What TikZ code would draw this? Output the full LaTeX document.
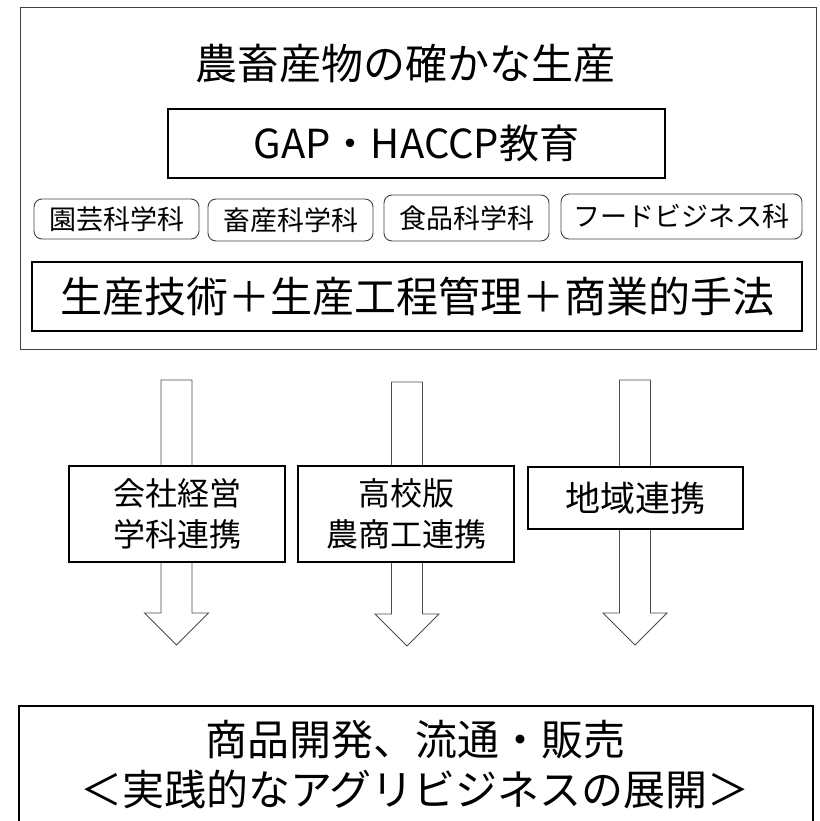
\documentclass[tikz,border=0pt]{standalone}
\usepackage{fontspec}
\setmainfont{Noto Sans CJK JP}
\begin{document}
\begin{tikzpicture}[x=1pt,y=-1pt,
  thinbox/.style={draw=black!75,line width=0.9pt},
  thickbox/.style={draw=black,line width=2.2pt,fill=white,inner sep=0pt,align=center},
  deptbox/.style={draw=black!75,line width=0.9pt,rounded corners=8pt,inner sep=0pt,font=\fontsize{27}{32}\selectfont},
  midbox/.style={draw=black,line width=2pt,fill=white,inner sep=0pt,align=center,minimum width=216pt},
  arrowline/.style={draw=black!70,line width=0.9pt,fill=white,line join=miter},
  bigtext/.style={font=\fontsize{42}{50}\selectfont},
  pics/downarrow/.style={code={
    \draw[arrowline] (-15.5,0) -- (15.5,0) -- (15.5,#1) -- (32,#1) -- (0,#1+32) -- (-32,#1) -- (-15.5,#1) -- cycle;
  }}
]
\useasboundingbox (0,0) rectangle (819,821);
% outer frame
\draw[thinbox] (20.5,7.5) rectangle (816.5,349);
\node[bigtext,inner sep=0pt] (title) at (405,64) {農畜産物の確かな生産};
\node[thickbox,minimum width=497pt,minimum height=69pt,font=\fontsize{40}{48}\selectfont] (gap) at (416.5,143.5) {GAP・HACCP教育};
\node[deptbox,minimum width=165pt,minimum height=40pt] (d1) at (116.5,219) {園芸科学科};
\node[deptbox,minimum width=165pt,minimum height=42pt] (d2) at (290.5,220) {畜産科学科};
\node[deptbox,minimum width=165pt,minimum height=46pt] (d3) at (466.5,218) {食品科学科};
\node[deptbox,minimum width=241pt,minimum height=45pt] (d4) at (681.5,216.5) {フードビジネス科};
\node[thickbox,minimum width=770pt,minimum height=69pt,bigtext] (tech) at (417,296.5) {生産技術＋生産工程管理＋商業的手法};
% block arrows
\coordinate (a1) at (176.5,380);
\coordinate (a2) at (407,382);
\coordinate (a3) at (635,380);
\pic at (a1) {downarrow=233};
\pic at (a2) {downarrow=232};
\pic at (a3) {downarrow=233};
% middle boxes
\node[midbox,minimum height=96pt,font=\fontsize{32}{40.5}\selectfont] (m1) at (177,514) {会社経営\\学科連携};
\node[midbox,minimum height=96pt,font=\fontsize{32}{40.5}\selectfont] (m2) at (406,514) {高校版\\農商工連携};
\node[midbox,minimum width=215pt,minimum height=62pt,font=\fontsize{35}{42}\selectfont] (m3) at (635.5,498) {地域連携};
% result box
\draw[draw=black,line width=2pt] (19,850) -- (19,706) -- (813,706) -- (813,850);
\node[bigtext,inner sep=0pt,align=center,font=\fontsize{42}{50}\selectfont] (res) at (415,765) {商品開発、流通・販売\\＜実践的なアグリビジネスの展開＞};
\end{tikzpicture}
\end{document}
